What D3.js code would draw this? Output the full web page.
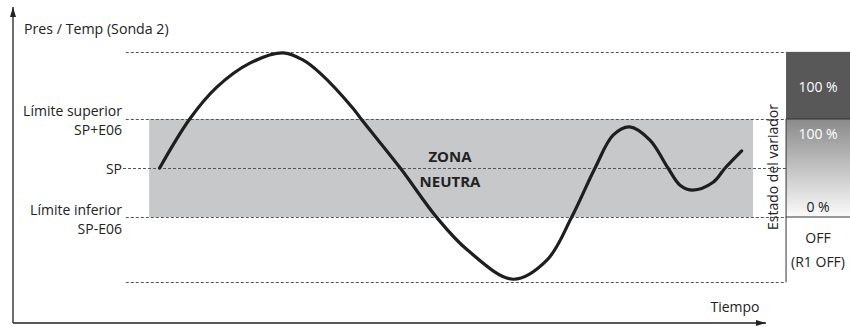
<!DOCTYPE html>
<html lang="en">
  <head>
    <meta charset="utf-8">
    <title>Zona neutra</title>
    <script src="https://cdn.jsdelivr.net/npm/d3@7"></script>
    <style>
      body { margin: 0; background: #fff; }
      text { font-family: 'Open Sans', sans-serif; fill: #222; }
    </style>
  </head>
  <body>
    <div id='chart'></div>
    <script type='text/javascript'>
      // curve: time (0..100) and value in E06 units around SP
      let times  = [19.5, 23.5, 27.1, 31.5, 35.9, 38.6, 40.8, 45.2, 46.4, 51.5, 56.3, 60.4, 66.5, 71.0, 74.3, 77.4, 79.8, 82.0, 84.7, 87.1, 88.7, 90.4, 93.1, 94.7, 96.9]
      let values = [0, 1.0, 1.65, 2.14, 2.35, 2.2, 1.94, 1.22, 0.98, 0, -1.0, -1.67, -2.27, -1.88, -1.0, 0, 0.67, 0.84, 0.57, 0, -0.35, -0.45, -0.29, 0, 0.35]

      // reference levels
      let levelValues = [2.37, 1, 0, -1, -2.33]
      let levelLabels = [[], ['Límite superior', 'SP+E06'], ['SP'], ['Límite inferior', 'SP-E06'], []]
      let zoneRange = [18.1, 98.4]
      let lineRange = [15.0, 102.8]

      // right panel
      let panelLabels = ['100 %', '100 %', '0 %', 'OFF', '(R1 OFF)']

      let width = 850, height = 327
      let svg = d3.select('#chart').append('svg')
        .attr('width', width)
        .attr('height', height)

      let scale_x = d3.scaleLinear().domain([0, 100]).range([13, 765])
      let scale_y = d3.scaleLinear().domain([-3.163, 3.265]).range([323, 8])

      let defs = svg.append('defs')
      let grad = defs.append('linearGradient').attr('id', 'g1')
        .attr('x1', 0).attr('y1', 0).attr('x2', 0).attr('y2', 1)
      grad.append('stop').attr('offset', '0%').attr('stop-color', '#8a8a8a')
      grad.append('stop').attr('offset', '100%').attr('stop-color', '#fbfbfb')
      defs.append('marker').attr('id', 'arr')
        .attr('viewBox', '0 0 10 10').attr('refX', 10).attr('refY', 5)
        .attr('markerWidth', 10).attr('markerHeight', 10)
        .attr('markerUnits', 'userSpaceOnUse')
        .attr('orient', 'auto')
        .append('path').attr('d', 'M0,2 L10,5 L0,8 Z').attr('fill', '#222')

      // neutral zone
      svg.append('rect')
        .attr('x', scale_x(zoneRange[0]))
        .attr('y', scale_y(levelValues[1]))
        .attr('width', scale_x(zoneRange[1]) - scale_x(zoneRange[0]))
        .attr('height', scale_y(levelValues[3]) - scale_y(levelValues[1]))
        .attr('fill', '#c6c8c9')

      // right panel
      let px0 = scale_x(lineRange[1]), px1 = width
      svg.append('rect').attr('x', px0).attr('y', scale_y(levelValues[0]))
        .attr('width', px1 - px0).attr('height', scale_y(levelValues[1]) - scale_y(levelValues[0]))
        .attr('fill', '#585858')
      svg.append('rect').attr('x', px0).attr('y', scale_y(levelValues[1]))
        .attr('width', px1 - px0).attr('height', scale_y(levelValues[3]) - scale_y(levelValues[1]))
        .attr('fill', 'url(#g1)')
      svg.append('line').attr('x1', px0).attr('x2', px0)
        .attr('y1', scale_y(levelValues[1])).attr('y2', scale_y(levelValues[4]))
        .attr('stroke', '#333').attr('stroke-width', 1)
      svg.selectAll('.pline').data([1, 3]).enter().append('line')
        .attr('x1', px0).attr('x2', px1)
        .attr('y1', (d) => scale_y(levelValues[d])).attr('y2', (d) => scale_y(levelValues[d]))
        .attr('stroke', '#333').attr('stroke-width', 1)

      // dashed level lines
      svg.selectAll('.level').data(levelValues).enter().append('line')
        .attr('x1', (d, i) => i == 2 ? 123 : scale_x(lineRange[0]))
        .attr('x2', px0)
        .attr('y1', (d) => Math.round(scale_y(d)) + 0.5)
        .attr('y2', (d) => Math.round(scale_y(d)) + 0.5)
        .attr('stroke', '#555')
        .attr('stroke-width', 1)
        .attr('stroke-dasharray', '3,2')

      // level labels
      let labelOffsets = [[], [-3, 16], [6], [-2, 17], []]
      levelValues.forEach((v, i) => {
        levelLabels[i].forEach((t, j) => {
          svg.append('text').attr('x', 122).attr('y', scale_y(v) + labelOffsets[i][j])
            .attr('text-anchor', 'end').attr('font-size', '14px')
            .text(t)
        })
      })

      // axes
      svg.append('line').attr('x1', 13).attr('x2', 13).attr('y1', 323).attr('y2', 7)
        .attr('stroke', '#222').attr('stroke-width', 1.3).attr('marker-end', 'url(#arr)')
      svg.append('line').attr('x1', 13).attr('x2', 766).attr('y1', 323).attr('y2', 323)
        .attr('stroke', '#222').attr('stroke-width', 1.3).attr('marker-end', 'url(#arr)')

      svg.append('text').attr('x', 24).attr('y', 34).attr('font-size', '14.2px').text('Pres / Temp (Sonda 2)')
      svg.append('text').attr('x', 735).attr('y', 312).attr('text-anchor', 'middle')
        .attr('font-size', '14px').text('Tiempo')

      // curve
      let line = d3.line()
        .x((d, i) => scale_x(times[i]))
        .y((d) => scale_y(d))
        .curve(d3.curveCatmullRom.alpha(0.5))
      svg.append('path').datum(values)
        .attr('d', line)
        .attr('fill', 'none')
        .attr('stroke', '#1e1e1e')
        .attr('stroke-width', 3.2)
        .attr('stroke-linecap', 'round')

      // zone label
      svg.append('text').attr('x', 450).attr('y', 162).attr('text-anchor', 'middle')
        .attr('font-size', '15px').attr('font-weight', 'bold').text('ZONA')
      svg.append('text').attr('x', 450).attr('y', 187).attr('text-anchor', 'middle')
        .attr('font-size', '15px').attr('font-weight', 'bold').text('NEUTRA')

      // panel labels
      let pcx = (px0 + px1) / 2
      let pys = [92, 139, 212, 243, 267]
      panelLabels.forEach((t, i) => {
        svg.append('text').attr('x', pcx).attr('y', pys[i])
          .attr('text-anchor', 'middle').attr('font-size', '14px')
          .style('fill', i < 2 ? '#fff' : '#222')
          .text(t)
      })
      svg.append('text')
        .attr('transform', 'translate(778,167) rotate(-90)')
        .attr('text-anchor', 'middle').attr('font-size', '14px')
        .text('Estado del variador')
    </script>
  </body>
</html>
